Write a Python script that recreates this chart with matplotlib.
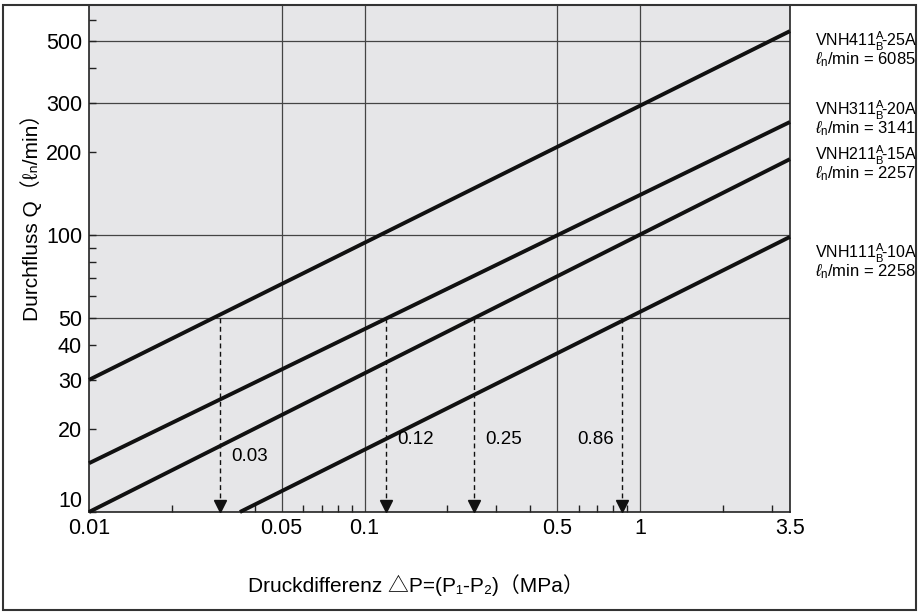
import matplotlib
matplotlib.use("Agg")
import matplotlib.pyplot as plt
from matplotlib.ticker import FixedLocator, LogLocator, NullFormatter
from matplotlib.transforms import offset_copy
from matplotlib.patches import Rectangle

plt.rcParams['font.family'] = ['Liberation Sans', 'Noto Sans CJK JP', 'DejaVu Sans']
plt.rcParams['mathtext.fontset'] = 'custom'
plt.rcParams['mathtext.rm'] = 'Liberation Sans'
plt.rcParams['mathtext.it'] = 'Liberation Sans:italic'

# data
models = ["VNH411", "VNH311", "VNH211", "VNH111"]
sizes = ["25A", "20A", "15A", "10A"]
flow_rate = ["6085", "3141", "2257", "2258"]
dp_start = [0.01, 0.01, 0.01, 0.0353]
q_start = [30, 15, 10, 10]
dp_end = [3.5, 3.5, 3.5, 3.5]
q_end = [545, 256, 188, 98.5]

arrow_dp = [0.03, 0.12, 0.25, 0.86]
arrow_q = 50
arrow_text = ["0.03", "0.12", "0.25", "0.86"]

x_ticks = [0.01, 0.05, 0.1, 0.5, 1, 3.5]
x_ticklabels = ["0.01", "0.05", "0.1", "0.5", "1", "3.5"]
y_ticks = [10, 20, 30, 40, 50, 100, 200, 300, 500]
x_grid = [0.05, 0.1, 0.5, 1]
y_grid = [50, 100, 300, 500]

W, H = 920, 615
fig = plt.figure(figsize=(W / 100, H / 100), dpi=100)
ax = fig.add_axes([89 / W, 1 - 512 / H, (790 - 89) / W, (512 - 5) / H])
ax.set_facecolor('#e6e6e8')
ax.set_xscale('log')
ax.set_yscale('log')
ax.set_xlim(0.01, 3.5)
ax.set_ylim(10, 677)

for xv in x_grid:
    ax.axvline(xv, color='#444444', lw=0.9, zorder=1)
for yv in y_grid:
    ax.axhline(yv, color='#444444', lw=0.9, zorder=1)

for i in range(len(models)):
    ax.plot([dp_start[i], dp_end[i]], [q_start[i], q_end[i]], color='#111111',
            lw=2.8, solid_capstyle='butt', zorder=3, clip_on=False)

tri = offset_copy(ax.transData, fig=fig, y=4.5, units='points')
for xv, lab in zip(arrow_dp, arrow_text):
    ax.plot([xv, xv], [arrow_q, 10], color='#111111', lw=1.0,
            linestyle=(0, (3.5, 2.5)), zorder=2)
    ax.plot([xv], [10], marker='v', ms=8, color='#111111', transform=tri,
            zorder=4, clip_on=False)
    if lab == "0.86":
        ax.annotate(lab, (xv, 18.2), xytext=(-6, 0), textcoords='offset points',
                    ha='right', va='center', fontsize=13.5)
    elif lab == "0.03":
        ax.annotate(lab, (xv, 15.8), xytext=(8, 0), textcoords='offset points',
                    ha='left', va='center', fontsize=13.5)
    else:
        ax.annotate(lab, (xv, 18.2), xytext=(8, 0), textcoords='offset points',
                    ha='left', va='center', fontsize=13.5)

ax.xaxis.set_major_locator(FixedLocator(x_ticks))
ax.set_xticklabels(x_ticklabels)
ax.xaxis.set_minor_locator(LogLocator(subs=range(2, 10)))
ax.xaxis.set_minor_formatter(NullFormatter())
ax.yaxis.set_major_locator(FixedLocator(y_ticks))
ylabels = ax.set_yticklabels([str(v) for v in y_ticks])
ylabels[0].set_va('bottom')  # the "10" sits a bit above the corner
ax.yaxis.set_minor_locator(LogLocator(subs=range(2, 10)))
ax.yaxis.set_minor_formatter(NullFormatter())
ax.tick_params(which='both', direction='in', length=5, width=1, color='#222222',
               labelsize=15.5)
ax.tick_params(axis='x', which='major', length=0, pad=4)
ax.tick_params(axis='y', which='major', pad=5)
for s in ax.spines.values():
    s.set_color('#222222')
    s.set_linewidth(1.2)

ax.set_ylabel("Durchfluss Q（ℓ\u2099/min）", fontsize=15)
ax.yaxis.set_label_coords(-0.067, 0.59)
fig.text(248 / W, 1 - 585 / H, "Druckdifferenz △P=(P\u2081-P\u2082)（MPa）",
         fontsize=15, va='center', ha='left')

# labels to the right of the lines
label_y = [50, 119, 164, 262]
for i in range(len(models)):
    fig.text(815 / W, 1 - (label_y[i] - 9) / H,
             models[i] + r"${}^{\rm A}_{\rm B}\!$" + "-" + sizes[i],
             fontsize=11.5, va='center', ha='left')
    fig.text(815 / W, 1 - (label_y[i] + 9.5) / H,
             r"$\ell_{\rm n}$/min = " + flow_rate[i],
             fontsize=12, va='center', ha='left')

fig.patches.append(Rectangle((3 / W, 1 - 610 / H), 913 / W, 605 / H,
                             transform=fig.transFigure, fill=False,
                             edgecolor='#333333', lw=1.5))

fig.savefig('out.png', dpi=100)
